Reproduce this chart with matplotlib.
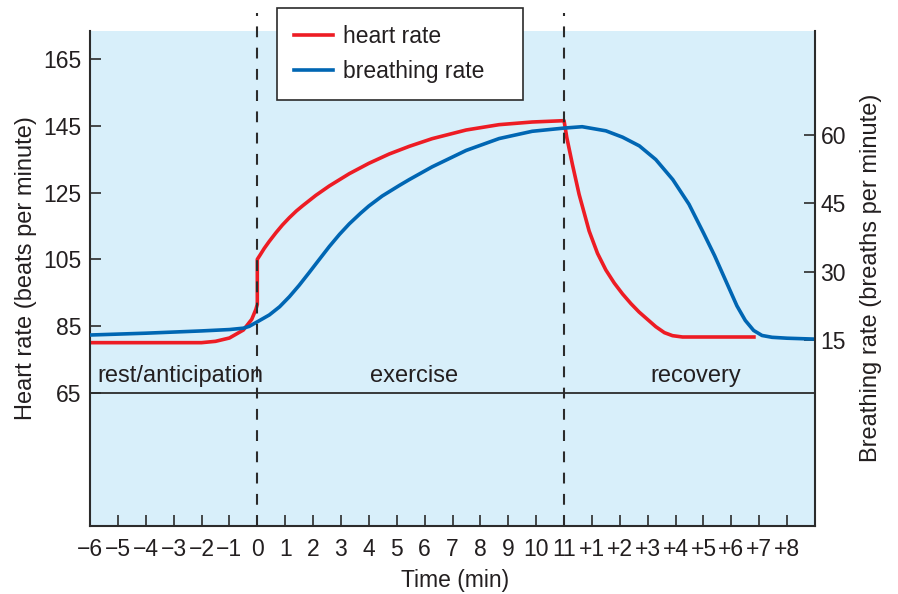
import matplotlib
matplotlib.use("Agg")
import matplotlib.pyplot as plt

plt.rcParams['font.family'] = ['Liberation Sans', 'DejaVu Sans']

# time in minutes; recovery minutes (+1..+8) continue after minute 11
heart_t = [-6, -4, -2, -1.5, -1.0, -0.5, -0.2, -0.05, 0,
           0, 0.1, 0.25, 0.43, 0.67, 0.9, 1.15, 1.4, 1.63, 2.1, 2.58, 3.3, 4.0, 4.73,
           5.45, 6.27, 7.49, 8.67, 9.86, 11.0,
           11.1, 11.3, 11.54, 11.9, 12.2, 12.5, 12.8, 13.1, 13.4, 13.69, 14.29, 14.6, 14.89, 15.25, 17.81]
heart_rate = [80.0, 80.0, 80.0, 80.4, 81.4, 83.8, 87.0, 90.0, 91.5,
              105.0, 106.3, 108.3, 110.4, 113.0, 115.3, 117.5, 119.5, 121.1, 124.2, 127.0, 130.7, 133.8, 136.6,
              138.9, 141.2, 143.8, 145.4, 146.2, 146.6,
              141.5, 133.5, 124.5, 113.5, 106.8, 101.8, 97.9, 94.6, 91.7, 89.2, 84.8, 83.0, 82.1, 81.7, 81.7]

breath_t = [-6, -4, -2, -1, -0.5, -0.29, 0, 0.43, 0.8, 1.15, 1.5, 1.86, 2.2, 2.58, 2.95,
            3.3, 3.7, 4.0, 4.48, 5.09, 5.45, 6.27, 7.49, 8.67, 9.86, 11.0, 11.65, 12.5, 13.1,
            13.7, 14.29, 14.9, 15.48, 16.0, 16.4, 16.8, 17.2, 17.5, 17.8, 18.1, 18.46, 19.0, 20.0]
breath_rate = [16.1, 16.5, 17.0, 17.3, 17.6, 18.0, 19.0, 20.5, 22.3, 24.5, 27.0, 29.8, 32.5, 35.5, 38.2,
               40.5, 42.8, 44.4, 46.6, 48.9, 50.2, 53.0, 56.6, 59.2, 60.8, 61.5, 61.8, 60.9, 59.5,
               57.6, 54.6, 50.2, 44.8, 38.5, 33.5, 28.0, 22.5, 19.3, 17.1, 16.0, 15.6, 15.4, 15.2]

x_ticks = list(range(-6, 20))
x_labels = ['\u22126', '\u22125', '\u22124', '\u22123', '\u22122', '\u22121', '0',
            '1', '2', '3', '4', '5', '6', '7', '8', '9', '10', '11',
            '+1', '+2', '+3', '+4', '+5', '+6', '+7', '+8']
hr_ticks = [65, 85, 105, 125, 145, 165]
br_ticks = [15, 30, 45, 60]
phase_bounds = [0, 11]
phase_names = ['rest/anticipation', 'exercise', 'recovery']

red = '#ed1c24'
blue = '#0066b3'
dark = '#2b2b2b'
fs = 16.5

fig = plt.figure(figsize=(8.98, 5.94), dpi=100)
ax = fig.add_axes([90 / 898, 68 / 594, 725 / 898, 495 / 594])
ax2 = ax.twinx()

ax.set_facecolor('#d8effa')
ax.set_xlim(-6, 20)
ax.set_ylim(25, 173.5)
ax2.set_ylim(-25.8, 82.8)

ax.plot(heart_t, heart_rate, color=red, lw=2.6, label='heart rate', solid_joinstyle='round')
ax2.plot(breath_t, breath_rate, color=blue, lw=2.6, label='breathing rate', solid_joinstyle='round')

ax.axhline(65, color=dark, lw=1.3)
for b in phase_bounds:
    ax2.axvline(b, ymin=0, ymax=1.036, color=dark, lw=1.5, dashes=(5.2, 5.0), clip_on=False, zorder=5)

# phase names
ax.text(-5.75, 68.3, phase_names[0], fontsize=17, color='#231f20', va='baseline')
ax.text(5.61, 68.3, phase_names[1], fontsize=17, color='#231f20', va='baseline', ha='center')
ax.text(15.73, 68.3, phase_names[2], fontsize=17, color='#231f20', va='baseline', ha='center')

ax.set_xticks(x_ticks)
ax.set_xticklabels(x_labels)
ax.set_yticks(hr_ticks)
ax2.set_yticks(br_ticks)

ax.tick_params(axis='x', direction='in', length=8, width=1.2, color=dark,
               labelsize=fs, labelcolor='#231f20', pad=9)
ax.tick_params(axis='y', direction='in', length=8, width=1.2, color=dark,
               labelsize=fs, labelcolor='#231f20', pad=6)
ax2.tick_params(axis='y', direction='in', length=8, width=1.2, color=dark,
                labelsize=fs, labelcolor='#231f20', pad=4)

for s in ['left', 'bottom']:
    ax.spines[s].set_color(dark)
    ax.spines[s].set_linewidth(1.5)
ax.spines['top'].set_visible(False)
ax.spines['right'].set_visible(False)
ax2.spines['top'].set_visible(False)
ax2.spines['left'].set_visible(False)
ax2.spines['bottom'].set_visible(False)
ax2.spines['right'].set_color(dark)
ax2.spines['right'].set_linewidth(1.5)

fig.text(26 / 898, 1 - 268 / 594, 'Heart rate (beats per minute)', rotation=90,
         ha='center', va='center', fontsize=17, color='#231f20')
fig.text(871 / 898, 1 - 278 / 594, 'Breathing rate (breaths per minute)', rotation=90,
         ha='center', va='center', fontsize=17, color='#231f20')
fig.text(455 / 898, 1 - 580 / 594, 'Time (min)', ha='center', va='center',
         fontsize=fs, color='#231f20')

h1, l1 = ax.get_legend_handles_labels()
h2, l2 = ax2.get_legend_handles_labels()
leg = ax2.legend(h1 + h2, l1 + l2, loc='upper left',
                 bbox_to_anchor=(277 / 898, 1 - 102 / 594, 246 / 898, 94 / 594),
                 bbox_transform=fig.transFigure, mode='expand', borderaxespad=0,
                 fontsize=fs, frameon=True, fancybox=False, framealpha=1,
                 borderpad=0.75, labelspacing=0.5, handlelength=1.7, handletextpad=0.45)
leg.get_frame().set_edgecolor(dark)
leg.get_frame().set_linewidth(1.2)
leg.set_zorder(10)
for t in leg.get_texts():
    t.set_color('#231f20')

fig.savefig('out.png', dpi=100)
